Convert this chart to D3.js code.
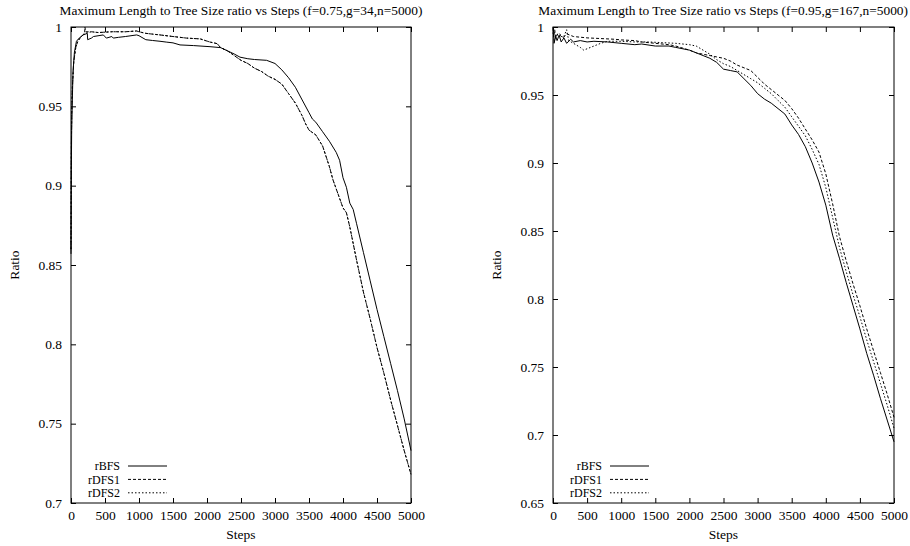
<!DOCTYPE html>
<html>
<head>
<meta charset="utf-8">
<script src="https://cdn.jsdelivr.net/npm/d3@7"></script>
<style>
  body { margin: 0; background: #fff; }
  svg text { font-family: "Liberation Serif", "Times New Roman", serif; fill: #000; }
</style>
</head>
<body>
<div id="chart"></div>
<script>
// tick values shared by both panels
const stepTicks = [0, 500, 1000, 1500, 2000, 2500, 3000, 3500, 4000, 4500, 5000]
const leftRatioTicks = [0.7, 0.75, 0.8, 0.85, 0.9, 0.95, 1]
const rightRatioTicks = [0.65, 0.7, 0.75, 0.8, 0.85, 0.9, 0.95, 1]
const seriesNames = ['rBFS', 'rDFS1', 'rDFS2']

// left panel, f=0.75  [step, ratio]
const leftBFS = [[0,0.857],[5,0.91],[10,0.935],[20,0.955],[30,0.972],[50,0.984],[80,0.991],[120,0.993],[180,0.995],[240,0.996],[245,0.992],[300,0.993],[330,0.994],[475,0.995],[520,0.993],[600,0.994],[622,0.993],[700,0.9935],[800,0.994],[966,0.995],[1000,0.9945],[1100,0.992],[1200,0.9915],[1309,0.991],[1400,0.9905],[1500,0.990],[1603,0.9887],[1800,0.9883],[2044,0.9876],[2200,0.987],[2300,0.985],[2400,0.983],[2485,0.981],[2600,0.980],[2700,0.9795],[2877,0.979],[3000,0.977],[3100,0.973],[3200,0.968],[3300,0.962],[3400,0.954],[3500,0.946],[3550,0.942],[3600,0.940],[3700,0.934],[3800,0.928],[3900,0.921],[3950,0.916],[4000,0.905],[4050,0.899],[4100,0.889],[4150,0.885],[4200,0.876],[4300,0.858],[4400,0.840],[4500,0.822],[4600,0.805],[4700,0.788],[4800,0.771],[4900,0.753],[5000,0.733]]
const leftDFS1 = [[0,0.86],[5,0.92],[10,0.945],[20,0.962],[40,0.978],[70,0.987],[100,0.991],[150,0.994],[200,0.996],[205,1.0],[215,0.997],[300,0.997],[400,0.9965],[600,0.997],[800,0.997],[966,0.9975],[1000,0.997],[1100,0.996],[1200,0.9955],[1309,0.995],[1500,0.994],[1700,0.993],[1900,0.9925],[2044,0.9905],[2100,0.990],[2150,0.9895],[2200,0.987],[2300,0.985],[2400,0.982],[2500,0.979],[2600,0.977],[2700,0.974],[2800,0.972],[2900,0.969],[3000,0.967],[3100,0.964],[3200,0.958],[3300,0.952],[3400,0.944],[3450,0.939],[3500,0.935],[3600,0.932],[3700,0.925],[3800,0.912],[3850,0.904],[3900,0.898],[4000,0.886],[4050,0.883],[4100,0.874],[4200,0.853],[4300,0.833],[4400,0.816],[4500,0.798],[4600,0.782],[4700,0.765],[4800,0.749],[4900,0.733],[5000,0.718]]
const leftDFS2 = [[0,0.86],[5,0.92],[10,0.945],[20,0.962],[40,0.978],[70,0.987],[100,0.991],[150,0.994],[200,0.996],[300,0.997],[400,0.9965],[600,0.997],[800,0.997],[966,0.9975],[1000,0.997],[1100,0.996],[1200,0.9955],[1309,0.995],[1500,0.994],[1700,0.993],[1900,0.9925],[2044,0.9905],[2100,0.990],[2150,0.9895],[2200,0.987],[2300,0.985],[2400,0.982],[2500,0.979],[2600,0.977],[2700,0.974],[2800,0.972],[2900,0.969],[3000,0.967],[3100,0.964],[3200,0.958],[3300,0.952],[3400,0.944],[3450,0.939],[3500,0.935],[3600,0.932],[3700,0.925],[3800,0.912],[3850,0.904],[3900,0.898],[4000,0.886],[4050,0.883],[4100,0.874],[4200,0.853],[4300,0.833],[4400,0.816],[4500,0.798],[4600,0.782],[4700,0.765],[4800,0.749],[4900,0.733],[5000,0.718]]

// right panel, f=0.95  [step, ratio]
const rightBFS = [[0,1.0],[10,0.997],[15,0.988],[40,0.993],[60,0.990],[90,0.994],[120,0.989],[160,0.992],[200,0.988],[260,0.991],[300,0.989],[400,0.990],[500,0.989],[600,0.9895],[800,0.989],[1000,0.988],[1200,0.987],[1300,0.9875],[1500,0.986],[1700,0.986],[1800,0.985],[1900,0.984],[2000,0.983],[2100,0.981],[2200,0.979],[2300,0.977],[2400,0.974],[2500,0.969],[2600,0.968],[2700,0.967],[2800,0.962],[2900,0.957],[3000,0.951],[3100,0.947],[3200,0.944],[3300,0.940],[3400,0.936],[3500,0.928],[3600,0.921],[3700,0.912],[3800,0.900],[3900,0.886],[4000,0.869],[4100,0.847],[4200,0.830],[4300,0.812],[4400,0.795],[4500,0.778],[4600,0.760],[4700,0.744],[4800,0.727],[4900,0.711],[5000,0.695]]
const rightDFS1 = [[0,0.999],[10,0.993],[25,0.998],[40,0.992],[70,0.995],[100,0.994],[150,0.992],[200,0.995],[300,0.993],[400,0.9925],[500,0.992],[700,0.9915],[900,0.991],[1000,0.9905],[1200,0.990],[1300,0.989],[1500,0.988],[1700,0.987],[1800,0.986],[2000,0.983],[2100,0.981],[2200,0.980],[2400,0.978],[2500,0.977],[2600,0.975],[2700,0.972],[2800,0.970],[2900,0.968],[3000,0.963],[3100,0.958],[3200,0.954],[3300,0.950],[3400,0.946],[3500,0.940],[3600,0.933],[3700,0.925],[3800,0.917],[3900,0.908],[4000,0.892],[4100,0.870],[4200,0.846],[4300,0.828],[4400,0.811],[4500,0.795],[4600,0.778],[4700,0.762],[4800,0.746],[4900,0.730],[5000,0.713]]
const rightDFS2 = [[0,0.996],[20,0.990],[50,0.994],[100,0.995],[150,0.992],[200,0.998],[230,0.990],[300,0.988],[400,0.985],[450,0.983],[500,0.984],[600,0.986],[700,0.988],[800,0.9895],[1000,0.9895],[1200,0.989],[1400,0.989],[1600,0.9885],[1800,0.988],[2000,0.987],[2100,0.986],[2200,0.983],[2300,0.980],[2400,0.976],[2500,0.973],[2600,0.971],[2700,0.968],[2800,0.965],[2900,0.962],[3000,0.959],[3100,0.955],[3200,0.951],[3300,0.946],[3400,0.941],[3500,0.934],[3600,0.927],[3700,0.920],[3800,0.910],[3900,0.899],[4000,0.882],[4100,0.860],[4200,0.838],[4300,0.820],[4400,0.803],[4500,0.787],[4600,0.770],[4700,0.754],[4800,0.738],[4900,0.722],[5000,0.705]]

const width = 910
const height = 546
const fontSize = 13.5
const titleSize = 13.4
const legendSize = 12
const dashes = [null, '3,2', '1.5,2']

const svg = d3.select('#chart').append('svg')
  .attr('width', width)
  .attr('height', height)

function drawPanel(left, right, yMin, ratioTicks, series, title) {
  const top = 27, bottom = 503
  const x = d3.scaleLinear().domain([0, 5000]).range([left, right])
  const y = d3.scaleLinear().domain([yMin, 1]).range([bottom, top])
  const g = svg.append('g')

  // inward ticks on all four sides (gnuplot style)
  g.append('g').attr('transform', 'translate(0,' + bottom + ')')
    .call(d3.axisBottom(x).tickValues(stepTicks).tickSize(-5).tickPadding(7).tickFormat(d3.format('d')))
  g.append('g').attr('transform', 'translate(0,' + top + ')')
    .call(d3.axisTop(x).tickValues(stepTicks).tickSize(-5).tickFormat(''))
  g.append('g').attr('transform', 'translate(' + left + ',0)')
    .call(d3.axisLeft(y).tickValues(ratioTicks).tickSize(-5).tickPadding(9).tickFormat(d => String(d)))
  g.append('g').attr('transform', 'translate(' + right + ',0)')
    .call(d3.axisRight(y).tickValues(ratioTicks).tickSize(-5).tickFormat(''))
  g.selectAll('.domain').remove()
  g.selectAll('.tick line').attr('stroke', '#000')
  g.selectAll('.tick text').style('font-size', fontSize + 'px').attr('fill', '#000')

  const line = d3.line().x(d => x(d[0])).y(d => y(d[1]))
  series.forEach((s, i) => {
    g.append('path')
      .datum(s)
      .attr('fill', 'none')
      .attr('stroke', '#000')
      .attr('stroke-width', 1)
      .attr('stroke-dasharray', dashes[i])
      .attr('d', line)
  })

  g.append('rect')
    .attr('x', left).attr('y', top)
    .attr('width', right - left).attr('height', bottom - top)
    .attr('fill', 'none').attr('stroke', '#000').attr('stroke-width', 1)

  // legend, bottom left inside the frame
  seriesNames.forEach((name, i) => {
    const ly = 466 + i * 13.4
    g.append('text')
      .attr('x', left + 49).attr('y', ly).attr('dy', '0.35em')
      .attr('text-anchor', 'end').style('font-size', legendSize + 'px')
      .text(name)
    g.append('line')
      .attr('x1', left + 57).attr('x2', left + 96)
      .attr('y1', ly).attr('y2', ly)
      .attr('stroke', '#000').attr('stroke-width', 1)
      .attr('stroke-dasharray', dashes[i])
  })

  const t = g.append('text')
    .attr('x', (left + right) / 2).attr('y', 15)
    .attr('text-anchor', 'middle').style('font-size', titleSize + 'px')
    .text(title)
  // keep the title inside the page
  const tw = t.node().getComputedTextLength()
  const cx = Math.min((left + right) / 2, width - 2 - tw / 2)
  t.attr('x', cx)

  g.append('text')
    .attr('x', (left + right) / 2).attr('y', 539)
    .attr('text-anchor', 'middle').style('font-size', fontSize + 'px')
    .text('Steps')
  g.append('text')
    .attr('transform', 'translate(' + (left - 57) + ',' + (top + bottom) / 2 + ') rotate(-90)')
    .attr('dy', '0.35em')
    .attr('text-anchor', 'middle').style('font-size', fontSize + 'px')
    .text('Ratio')
}

drawPanel(71, 411, 0.7, leftRatioTicks, [leftBFS, leftDFS1, leftDFS2],
  'Maximum Length to Tree Size ratio vs Steps (f=0.75,g=34,n=5000)')
drawPanel(553, 894, 0.65, rightRatioTicks, [rightBFS, rightDFS1, rightDFS2],
  'Maximum Length to Tree Size ratio vs Steps (f=0.95,g=167,n=5000)')
</script>
</body>
</html>
